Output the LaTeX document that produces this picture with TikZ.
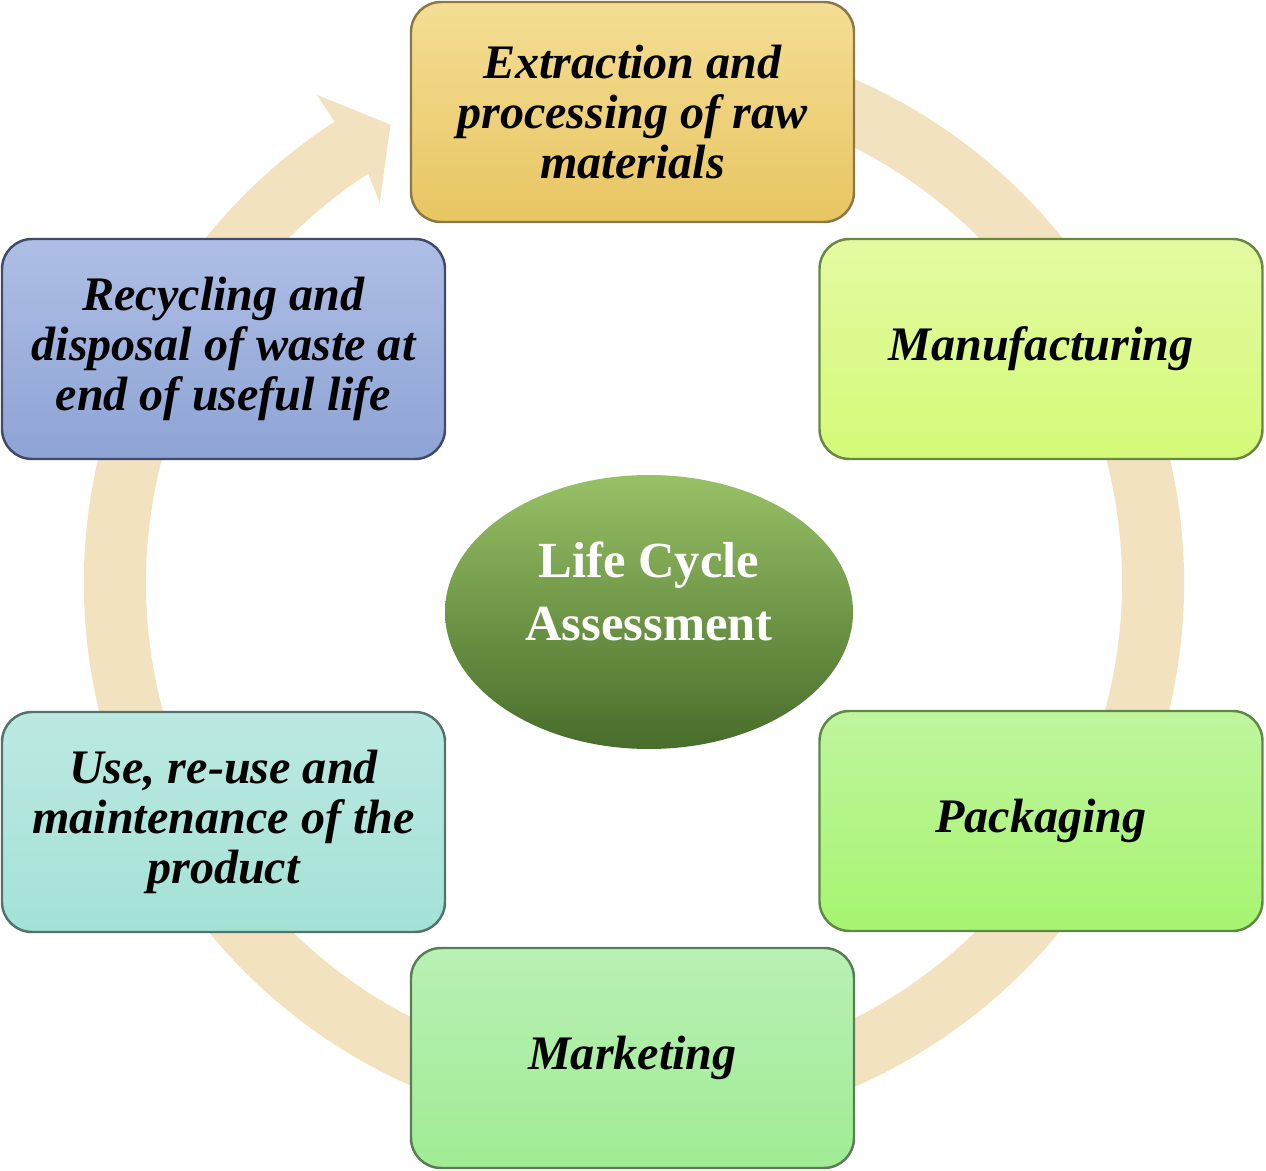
\documentclass[tikz,border=0pt]{standalone}
\usepackage{fontspec}
\setmainfont{Liberation Serif}
\usetikzlibrary{shapes.geometric}

\definecolor{ringcol}{RGB}{242,226,192}
\definecolor{extop}{RGB}{244,222,148}
\definecolor{exbot}{RGB}{232,197,98}
\definecolor{exline}{RGB}{140,120,70}
\definecolor{mftop}{RGB}{228,250,162}
\definecolor{mfbot}{RGB}{212,250,120}
\definecolor{mfline}{RGB}{105,135,65}
\definecolor{pktop}{RGB}{192,245,158}
\definecolor{pkbot}{RGB}{166,245,112}
\definecolor{pkline}{RGB}{95,135,70}
\definecolor{mktop}{RGB}{184,241,180}
\definecolor{mkbot}{RGB}{160,236,148}
\definecolor{mkline}{RGB}{90,125,85}
\definecolor{ustop}{RGB}{188,233,226}
\definecolor{usbot}{RGB}{164,226,214}
\definecolor{usline}{RGB}{85,115,110}
\definecolor{rctop}{RGB}{174,190,229}
\definecolor{rcbot}{RGB}{142,164,214}
\definecolor{rcline}{RGB}{65,75,105}
\definecolor{lcatop}{RGB}{152,193,102}
\definecolor{lcabot}{RGB}{72,108,42}

\begin{document}
\begin{tikzpicture}[
    stage/.style={rounded corners=0.3cm, minimum width=4.43cm, minimum height=2.2cm,
        align=center, line width=0.7pt,
        font=\fontsize{13.7}{14.2}\selectfont\bfseries\itshape},
    ]
    \useasboundingbox (0,0) rectangle (12.66,11.71);

    % cycle arrow
    \begin{scope}[shift={(6.34,5.88)}]
        \fill[ringcol] (70:5.5) arc[start angle=70, end angle=-237, radius=5.5]
            -- (-237:5.82) -- (-242:5.19) -- (-236.2:4.57) -- (-237:4.88)
            arc[start angle=-237, end angle=70, radius=4.88] -- cycle;
    \end{scope}

    % stages
    \node[stage, draw=exline, top color=extop, bottom color=exbot] (extract) at (6.325,10.59)
        {Extraction and\\processing of raw\\materials};
    \node[stage, draw=mfline, top color=mftop, bottom color=mfbot] (manuf) at (10.41,8.22)
        {Manufacturing};
    \node[stage, draw=pkline, top color=pktop, bottom color=pkbot] (pack) at (10.41,3.50)
        {Packaging};
    \node[stage, draw=mkline, top color=mktop, bottom color=mkbot] (market) at (6.325,1.13)
        {Marketing};
    \node[stage, draw=usline, top color=ustop, bottom color=usbot] (use) at (2.235,3.49)
        {Use, re-use and\\maintenance of the\\product};
    \node[stage, draw=rcline, top color=rctop, bottom color=rcbot] (recycle) at (2.235,8.22)
        {Recycling and\\disposal of waste at\\end of useful life};

    % centre
    \node[ellipse, minimum width=4.08cm, minimum height=2.74cm, inner sep=0pt, align=center,
        top color=lcatop, bottom color=lcabot, text=white,
        font=\fontsize{14.4}{18}\selectfont\bfseries] (lca) at (6.49,5.59)
        {Life Cycle\\Assessment\rule[-0.42cm]{0pt}{0pt}};
\end{tikzpicture}
\end{document}
